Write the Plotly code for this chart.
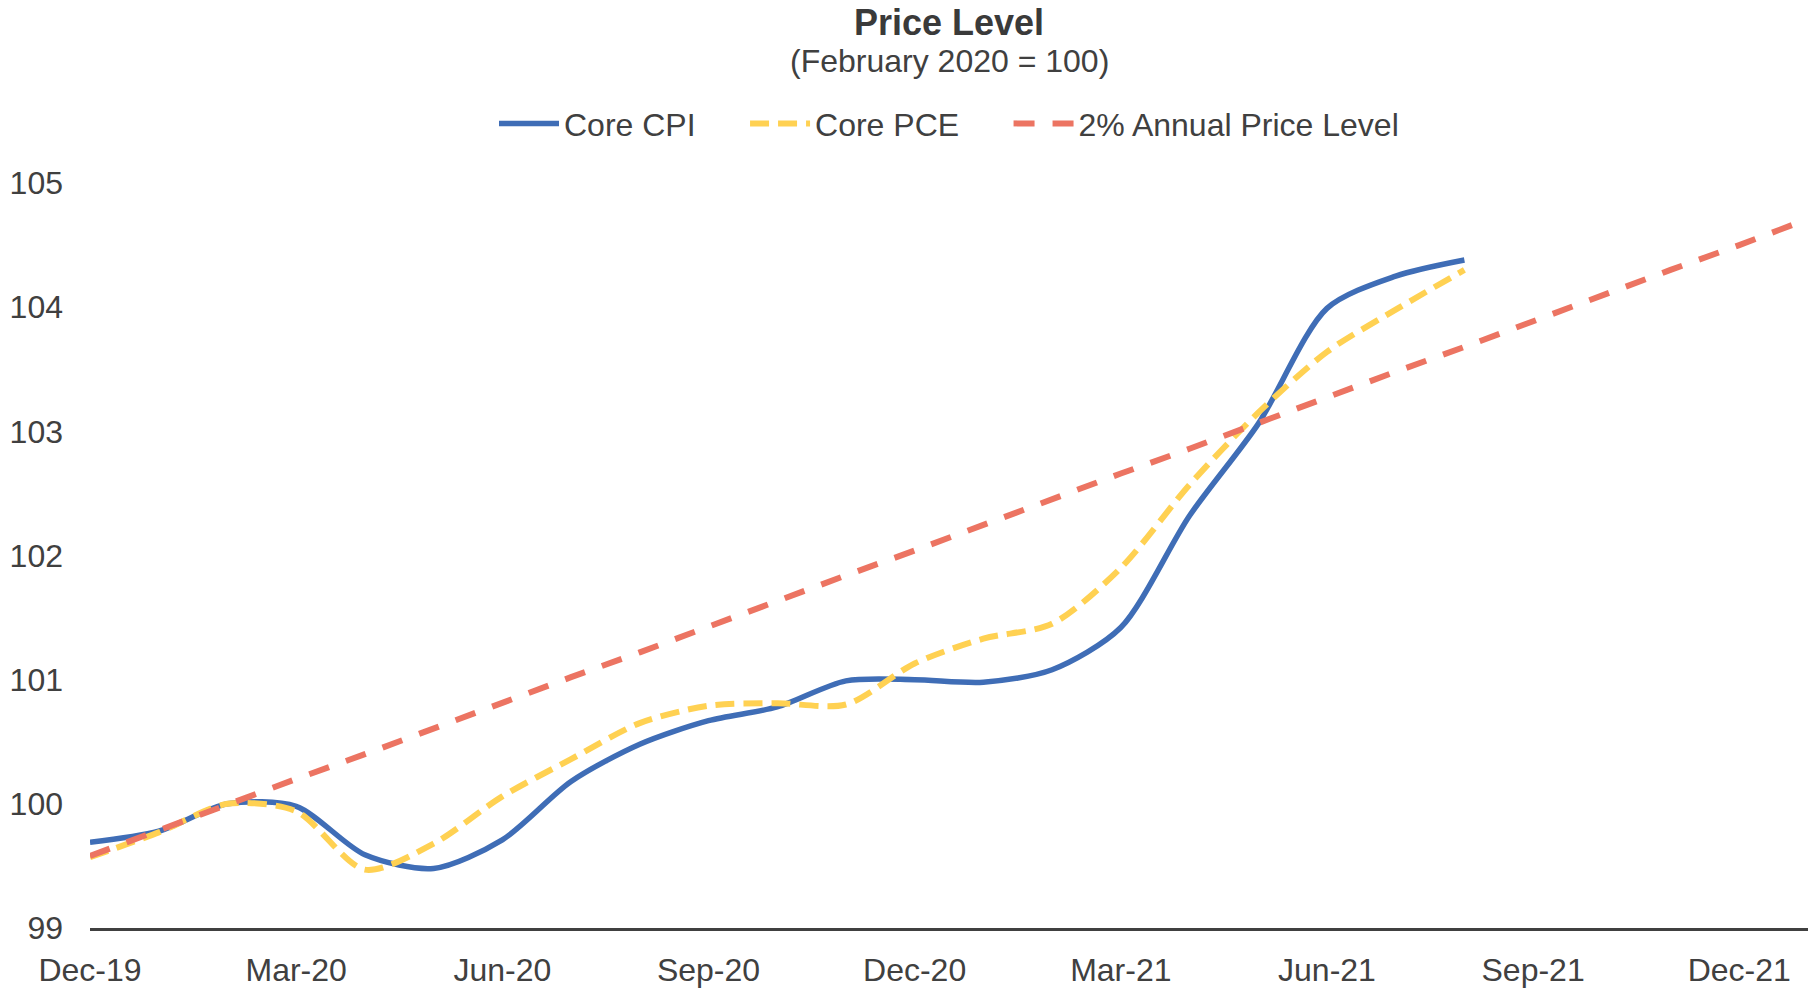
import plotly.graph_objects as go

# Month index 0 = Dec-19 ... 25 = Jan-22
tick_positions = [0, 3, 6, 9, 12, 15, 18, 21, 24]
tick_labels = ["Dec-19", "Mar-20", "Jun-20", "Sep-20", "Dec-20", "Mar-21", "Jun-21", "Sep-21", "Dec-21"]

months_actual = list(range(21))  # Dec-19 .. Aug-21
core_cpi = [99.69, 99.78, 100.00, 99.98, 99.59, 99.48, 99.71, 100.18, 100.48, 100.67,
            100.78, 100.99, 101.00, 100.98, 101.08, 101.42, 102.32, 103.06, 103.99, 104.25, 104.38]
core_pce = [99.57, 99.77, 100.00, 99.94, 99.47, 99.68, 100.06, 100.36, 100.65, 100.79,
            100.81, 100.80, 101.13, 101.33, 101.45, 101.90, 102.57, 103.15, 103.64, 103.98, 104.30]

months_trend = list(range(26))  # Dec-19 .. Jan-22
trend_2pct = [99.58, 99.79, 99.99, 100.20, 100.40, 100.61, 100.81, 101.02, 101.22, 101.43,
              101.63, 101.84, 102.04, 102.25, 102.45, 102.66, 102.86, 103.07, 103.27, 103.48,
              103.68, 103.89, 104.09, 104.30, 104.50, 104.71]

y_ticks = [99, 100, 101, 102, 103, 104, 105]

FONT = "Liberation Sans, Arial, sans-serif"
TXT = "#404040"
PAD = "\u00a0" * 5

fig = go.Figure()
fig.add_trace(go.Scatter(x=months_actual, y=core_cpi, name="Core CPI" + PAD, mode="lines",
                         line=dict(color="#3f6db6", width=5.5, shape="spline", smoothing=0.8)))
fig.add_trace(go.Scatter(x=months_actual, y=core_pce, name="Core PCE" + PAD, mode="lines",
                         line=dict(color="#ffd152", width=6, shape="spline", smoothing=0.8,
                                   dash="19px,9px")))
fig.add_trace(go.Scatter(x=months_trend, y=trend_2pct, name="2% Annual Price Level", mode="lines",
                         line=dict(color="#ec7462", width=6, dash="21px,18px")))

fig.update_layout(
    width=1813, height=988,
    margin=dict(l=90, r=5, t=183, b=60),
    paper_bgcolor="white", plot_bgcolor="white",
    font=dict(family=FONT, size=32, color=TXT),
    showlegend=True,
    legend=dict(orientation="h", x=0.5, xanchor="center", y=1.0797, yanchor="middle",
                font=dict(size=32, color=TXT), itemwidth=60, traceorder="normal"),
    xaxis=dict(range=[0, 25], tickmode="array", tickvals=tick_positions, ticktext=tick_labels,
               showgrid=False, zeroline=False, showline=True, linecolor="#404040", linewidth=3,
               ticks="", ticklabelstandoff=12, automargin=False,
               tickfont=dict(size=32, color=TXT)),
    yaxis=dict(range=[99, 105], tickmode="array", tickvals=y_ticks,
               showgrid=False, zeroline=False, showline=False, ticks="", automargin=False,
               ticklabelstandoff=26, tickfont=dict(size=32, color=TXT)),
    annotations=[
        dict(text="<b>Price Level</b>", x=0.5, y=1.2148, xref="paper", yref="paper",
             xanchor="center", yanchor="middle", showarrow=False,
             font=dict(size=36, color="#3a3a3a", family=FONT)),
        dict(text="(February 2020 = 100)", x=0.5, y=1.1639, xref="paper", yref="paper",
             xanchor="center", yanchor="middle", showarrow=False,
             font=dict(size=32, color=TXT, family=FONT)),
    ],
)

fig.write_html("out.html", config={"displayModeBar": False},
               post_script="document.body.style.margin='0';")
